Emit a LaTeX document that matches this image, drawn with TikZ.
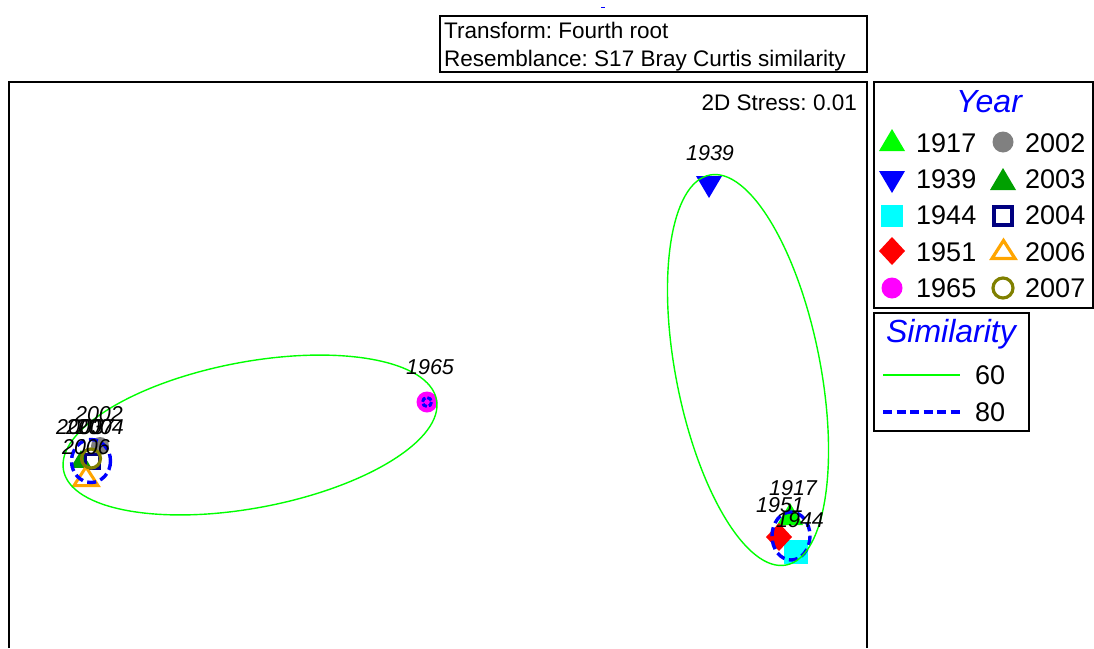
\documentclass[tikz,border=0pt]{standalone}
\usepackage{fontspec}
\setmainfont{Liberation Sans}
\frenchspacing
\definecolor{navy}{RGB}{0,0,128}
\definecolor{dkgreen}{RGB}{0,160,0}
\definecolor{myorange}{RGB}{255,165,0}
\definecolor{myolive}{RGB}{128,128,0}
\definecolor{mygray}{RGB}{128,128,128}
\definecolor{mycyan}{RGB}{0,255,255}
\definecolor{mymagenta}{RGB}{255,0,255}
\definecolor{mygreen}{RGB}{0,255,0}
\definecolor{myblue}{RGB}{0,0,255}
\definecolor{myred}{RGB}{255,0,0}
\begin{document}
\begin{tikzpicture}[x=1pt,y=-1pt,
  lbl/.style={font=\fontsize{21.5}{21.5}\selectfont\itshape, inner sep=0pt},
  leg/.style={font=\fontsize{27}{27}\selectfont, inner sep=0pt, anchor=west},
  ttl/.style={font=\fontsize{32}{32}\selectfont\itshape, text=myblue, inner sep=0pt, anchor=base},
  info/.style={font=\fontsize{22.5}{22.5}\selectfont, inner sep=0pt, anchor=base west},
  frame/.style={line width=1.8pt},
  sim60/.style={draw=mygreen, line width=1.4pt},
  sim80/.style={draw=myblue, line width=3.4pt, dash pattern=on 9pt off 4.5pt},
  uptri/.pic={\path[pic actions] (-13,11) -- (13,11) -- (0,-11) -- cycle;},
  dntri/.pic={\path[pic actions] (-13,-11) -- (13,-11) -- (0,11) -- cycle;},
  sq/.pic={\path[pic actions] (-11,-11) rectangle (11,11);},
  dia/.pic={\path[pic actions] (-13,0) -- (0,-14) -- (13,0) -- (0,14) -- cycle;}
]
\useasboundingbox (0,0) rectangle (1094,648);

% top mark and info box
\draw[myblue, line width=1.8pt] (601,7.5) -- (605,7.5);
\draw[frame] (440,16) rectangle (867,72);
\node[info] (t1) at (444,38) {Transform: Fourth root};
\node[info] (t2) at (444,66) {Resemblance: S17 Bray Curtis similarity};

% plot frame
\draw[frame] (9,648) -- (9,82) -- (867,82) -- (867,648);
\node[font=\fontsize{22.5}{22.5}\selectfont, inner sep=0pt, anchor=base east] (stress) at (857,110) {2D Stress: 0.01};

% ---- left cluster markers
\fill[mygray] (100,446) circle (9);
\pic[fill=dkgreen, scale=0.8] at (81,459) {uptri};
\draw[navy, line width=3pt] (85,454) rectangle (99,468);
\draw[myorange, line width=3pt] (74,485.5) -- (98,485.5) -- (86,467) -- cycle;
\draw[myolive, line width=3.2pt] (91,458.5) circle (9.5);
\draw[sim80] (91,461) ellipse (19.5 and 21.5);

% 1965
\fill[mymagenta] (427,402) circle (10.5);
\draw[myblue, line width=3pt, dash pattern=on 5pt off 2pt] (427,402) circle (4.5);

% 1939
\pic[fill=myblue] at (709,187) {dntri};

% right cluster
\pic[fill=mygreen] at (790,514) {uptri};
\pic[fill=mycyan, scale=1.1] at (796,552) {sq};
\pic[fill=myred] at (779,537) {dia};
\draw[sim80] (791,536) ellipse (19 and 24);

% 60% ellipses
\begin{scope}[shift={(250,435)}, rotate=10.7]
  \draw[sim60] (0,0) ellipse (189.8 and 73);
\end{scope}
\begin{scope}[shift={(748,370)}, rotate=11.1]
  \draw[sim60] (0,0) ellipse (72.2 and 198.7);
\end{scope}

% point labels
\node[lbl] (l2002) at (99,414) {2002};
\node[lbl] (l2003) at (80,427) {2003};
\node[lbl] (l2007) at (90,427) {2007};
\node[lbl] (l2004) at (100,427) {2004};
\node[lbl] (l2006) at (86,447) {2006};
\node[lbl] (l1965) at (430,367) {1965};
\node[lbl] (l1939) at (710,153) {1939};
\node[lbl] (l1917) at (793,488) {1917};
\node[lbl] (l1951) at (780,505) {1951};
\node[lbl] (l1944) at (800,520) {1944};

% ---- Year legend
\draw[frame] (874,82) rectangle (1093,308);
\node[ttl] (ytitle) at (989,112) {Year};
\pic[fill=mygreen] at (892,140) {uptri};
\pic[fill=myblue] at (892,182) {dntri};
\pic[fill=mycyan] at (892,216) {sq};
\pic[fill=myred] at (892,251) {dia};
\fill[mymagenta] (892,288) circle (10.5);
\fill[mygray] (1003,142) circle (10.5);
\pic[fill=dkgreen] at (1003,179) {uptri};
\draw[navy, line width=3.2pt] (994,207) rectangle (1012,225);
\draw[myorange, line width=3.2pt] (992,258.5) -- (1015,258.5) -- (1003.5,240.5) -- cycle;
\draw[myolive, line width=3.2pt] (1003,288) circle (10);
\node[leg] (y1917) at (916,143) {1917};
\node[leg] (y1939) at (916,179) {1939};
\node[leg] (y1944) at (916,215) {1944};
\node[leg] (y1951) at (916,252) {1951};
\node[leg] (y1965) at (916,288) {1965};
\node[leg] (y2002) at (1025,143) {2002};
\node[leg] (y2003) at (1025,179) {2003};
\node[leg] (y2004) at (1025,215) {2004};
\node[leg] (y2006) at (1025,252) {2006};
\node[leg] (y2007) at (1025,288) {2007};

% ---- Similarity legend
\draw[frame] (874,313) rectangle (1029,431);
\node[ttl] (stitle) at (951,342) {Similarity};
\coordinate (a1) at (883,375);
\coordinate (a2) at (960,375);
\coordinate (b1) at (883,412);
\coordinate (b2) at (960,412);
\draw[mygreen, line width=1.4pt] (a1) -- (a2);
\draw[sim80] (b1) -- (b2);
\node[leg] (s60) at (975,375) {60};
\node[leg] (s80) at (975,412) {80};
\end{tikzpicture}
\end{document}
